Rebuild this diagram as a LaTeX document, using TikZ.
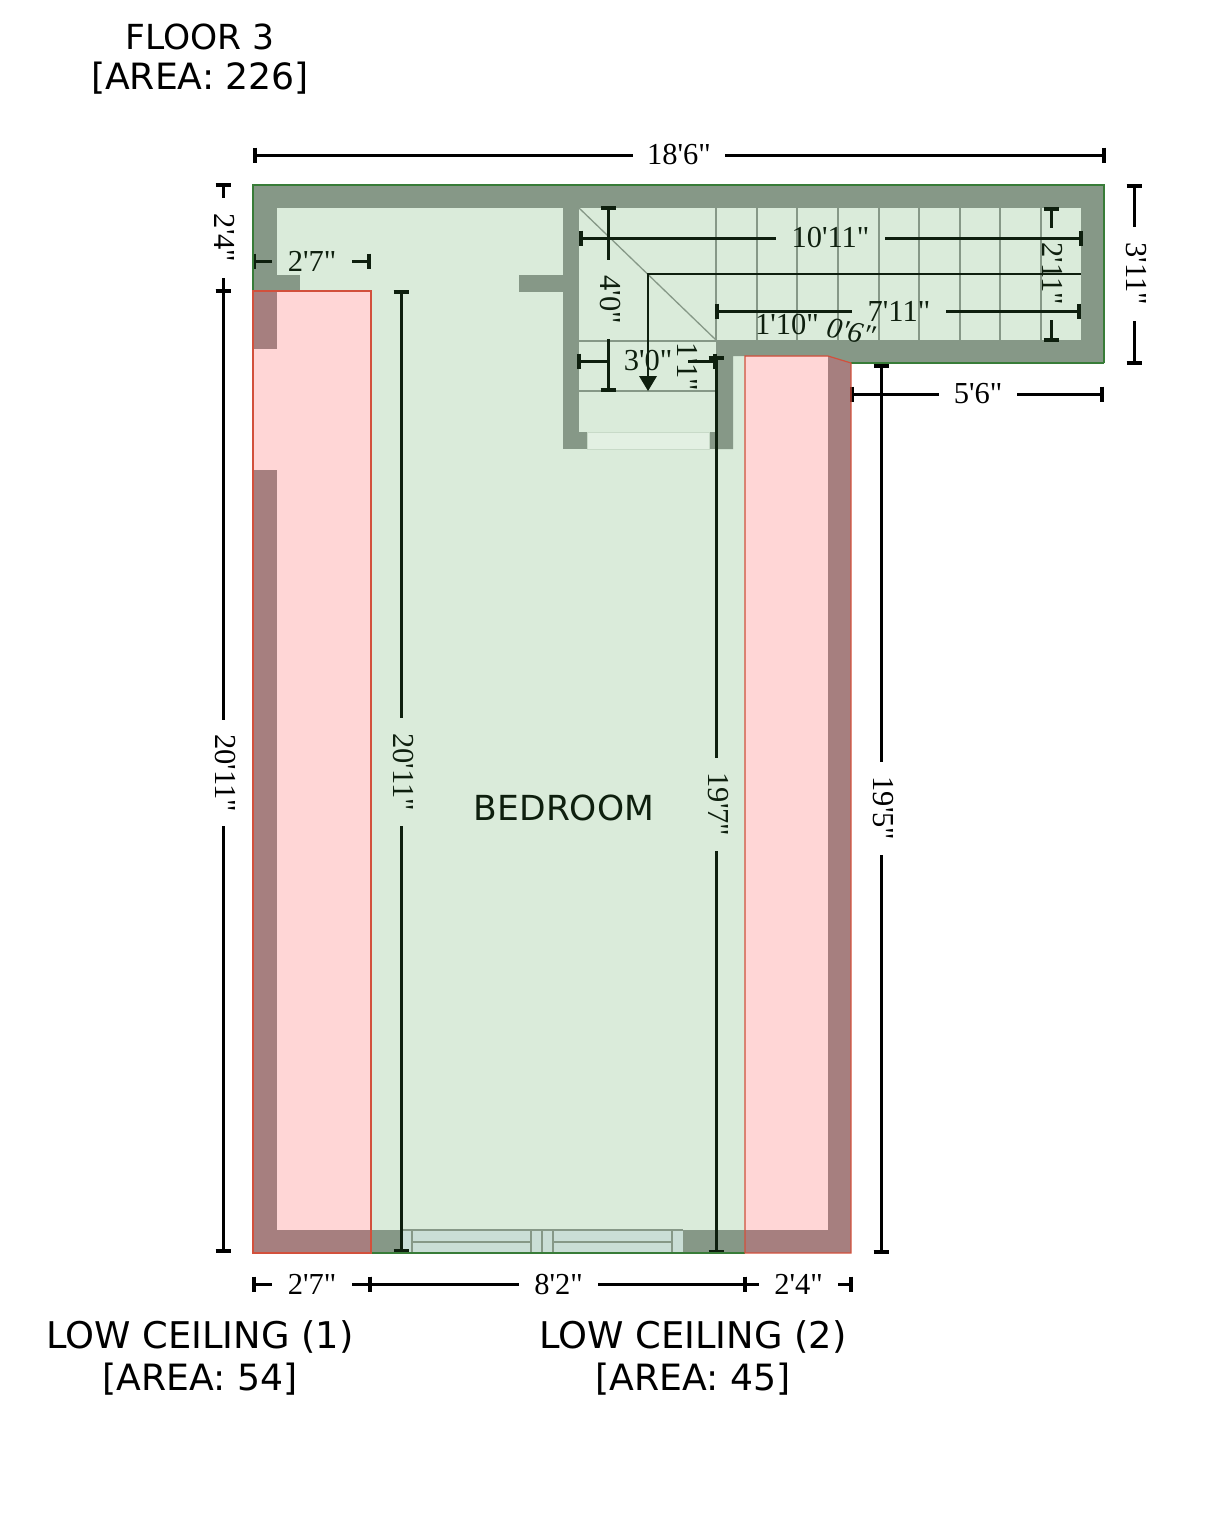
\documentclass[tikz,border=0pt]{standalone}
\usepackage{fontspec}
\newfontfamily\dimfont{Liberation Serif}
\newfontfamily\labelfont{DejaVu Sans}
\newcounter{dimn}
\tikzset{
  wall/.style={fill=wallgrey,draw=none},
  stairline/.style={draw=wallgrey,line width=1.3pt},
  dimline/.style={draw=black,line width=3pt},
  dimtick/.style={draw=black,line width=4.6pt},
  dimtext/.style={font=\dimfont\fontsize{30.5}{30.5}\selectfont,text=black,inner sep=0pt},
  bigtext/.style={text=black,inner sep=0pt},
}
\definecolor{wallgrey}{RGB}{150,152,152}
\definecolor{floorgreen}{RGB}{70,155,70}
\definecolor{ceilred}{RGB}{255,0,0}
\newcommand\lblA{\labelfont\fontsize{34.5}{34.5}\selectfont}
\newcommand\lblB{\labelfont\fontsize{36.2}{36.2}\selectfont}
\newcommand\lblC{\labelfont\fontsize{36.8}{36.8}\selectfont}
% \hdimen{y}{x1}{x2}{gap1}{gap2}{text}
\newcommand\hdimen[6]{%
  \stepcounter{dimn}%
  \coordinate (a\thedimn) at (#2,#1);
  \coordinate (b\thedimn) at (#4,#1);
  \coordinate (c\thedimn) at (#5,#1);
  \coordinate (d\thedimn) at (#3,#1);
  \draw[dimline] (a\thedimn) -- (b\thedimn) (c\thedimn) -- (d\thedimn);
  \draw[dimtick] (#2,#1-7.5) -- (#2,#1+7.5) (#3,#1-7.5) -- (#3,#1+7.5);
  \node[dimtext] (t\thedimn) at ({(#4+#5)/2},#1) {#6};
}
\newcommand\vdimen[6]{%
  \stepcounter{dimn}%
  \coordinate (a\thedimn) at (#1,#2);
  \coordinate (b\thedimn) at (#1,#4);
  \coordinate (c\thedimn) at (#1,#5);
  \coordinate (d\thedimn) at (#1,#3);
  \draw[dimline] (a\thedimn) -- (b\thedimn) (c\thedimn) -- (d\thedimn);
  \draw[dimtick] (#1-7.5,#2) -- (#1+7.5,#2) (#1-7.5,#3) -- (#1+7.5,#3);
  \node[dimtext,rotate=-90] (t\thedimn) at (#1+2,{(#4+#5)/2}) {#6};
}
\begin{document}
\begin{tikzpicture}[x=1pt,y=-1pt]
\useasboundingbox (0,0) rectangle (1225,1536);
\fill[white] (0,0) rectangle (1225,1536);
% walls
\fill[wall] (253,185) rectangle (1104,208);
\fill[wall] (253,185) rectangle (277,349);
\fill[wall] (277,275) rectangle (300,291);
\fill[wall] (253,470) rectangle (277,1253);
\fill[wall] (253,1230) rectangle (403,1253);
\fill[wall] (683,1230) rectangle (851,1253);
\fill[wall] (828,356) rectangle (851,1253);
\fill[wall] (1081,185) rectangle (1104,363);
\fill[wall] (716,340) -- (1104,340) -- (1104,363) -- (851,363) -- (828,356) -- (733,356) -- (733,449) -- (716,449) -- cycle;
\fill[wall] (563,208) rectangle (579,449);
\fill[wall] (519,275) rectangle (563,292);
\fill[wall] (579,432) rectangle (587,449);
\fill[wall] (709,432) rectangle (716,449);
% window
\fill[fill={rgb,255:red,235;green,239;blue,251}] (403,1230) rectangle (683,1253);
\draw[stairline] (412,1230) -- (412,1253) (531,1230) -- (531,1253) (542,1230) -- (542,1253) (553,1230) -- (553,1253) (672,1230) -- (672,1253);
\draw[stairline] (403,1230) -- (683,1230) (412,1242) -- (531,1242) (553,1242) -- (672,1242);
% stairs
\foreach \sx in {716,757,797,838,879,919,960,1000,1041} {\draw[stairline] (\sx,208) -- (\sx,340);}
\draw[stairline] (579,208) -- (716,340);
\draw[stairline] (579,341) -- (716,341) (579,391) -- (716,391);
\draw[black,line width=1.3pt] (1081,274) -- (648,274) -- (648,380);
\fill[black] (639,376) -- (657,376) -- (648,391) -- cycle;
% dimensions
\hdimen{155}{255}{1104}{633}{725}{18'6"}
\vdimen{223}{185}{291}{198}{278}{2'4"}
\vdimen{223}{291}{1251}{720}{826}{20'11"}
\hdimen{261}{254}{369}{272}{352}{2'7"}
\vdimen{401}{292}{1251}{718}{826}{20'11"}
\vdimen{716}{358}{1252}{758}{851}{19'7"}
\vdimen{881}{366}{1252}{762}{855}{19'5"}
\hdimen{394}{852}{1102}{939}{1017}{5'6"}
\vdimen{1134}{186}{363}{227}{321}{3'11"}
\vdimen{1051}{209}{340}{228}{320}{2'11"}
\hdimen{238}{581}{1081}{776}{885}{10'11"}
\hdimen{311}{717}{1079}{852}{946}{7'11"}
\vdimen{608}{208}{390}{260}{339}{4'0"}
\hdimen{361}{579}{715}{608}{688}{3'0"}
\hdimen{1284}{254}{370}{272}{352}{2'7"}
\hdimen{1284}{370}{745}{519}{598}{8'2"}
\hdimen{1284}{745}{851}{759}{838}{2'4"}
\node[dimtext,rotate=-90] (oneone) at (688,367) {1'1"};
\node[dimtext] (oneten) at (787,325) {1'10"};
\node[dimtext,rotate=-12,font=\dimfont\fontsize{29.5}{29.5}\selectfont\itshape] (zerosix) at (851,332) {0'6"};
% texts
\node[bigtext,font=\lblA] (bedroom) at (564,808) {BEDROOM};
\node[bigtext,font=\lblA] (floorname) at (200,37) {FLOOR 3};
\node[bigtext,font=\lblB] (floorarea) at (200,78) {[AREA: 226]};
\node[bigtext,font=\lblC] (lowa) at (200,1337) {LOW CEILING (1)};
\node[bigtext,font=\lblB] (lowaarea) at (200,1379) {[AREA: 54]};
\node[bigtext,font=\lblC] (lowb) at (693,1337) {LOW CEILING (2)};
\node[bigtext,font=\lblB] (lowbarea) at (693,1379) {[AREA: 45]};
% room overlay
\fill[floorgreen,fill opacity=.2] (253,185) -- (1104,185) -- (1104,363) -- (851,363) -- (828,356) -- (745,356) -- (745,1253) -- (371,1253) -- (371,291) -- (253,291) -- cycle;
\draw[floorgreen!80!black,line width=1.2pt] (371,1253) -- (745,1253) (1104,363) -- (851,363) (1104,363) -- (1104,185) -- (253,185) -- (253,291);
% low ceiling overlays
\path[fill=ceilred,fill opacity=.16,draw={rgb,255:red,210;green,80;blue,60},line width=1.2pt] (253,291) rectangle (371,1253);
\path[fill=ceilred,fill opacity=.16,draw={rgb,255:red,210;green,80;blue,60},line width=1.2pt] (745,356) -- (828,356) -- (851,363) -- (851,1253) -- (745,1253) -- cycle;
% landing opening
\path[fill={rgb,255:red,227;green,240;blue,227},draw={rgb,255:red,200;green,218;blue,200},line width=.8pt] (587,432) rectangle (709,449);
\end{tikzpicture}
\end{document}
